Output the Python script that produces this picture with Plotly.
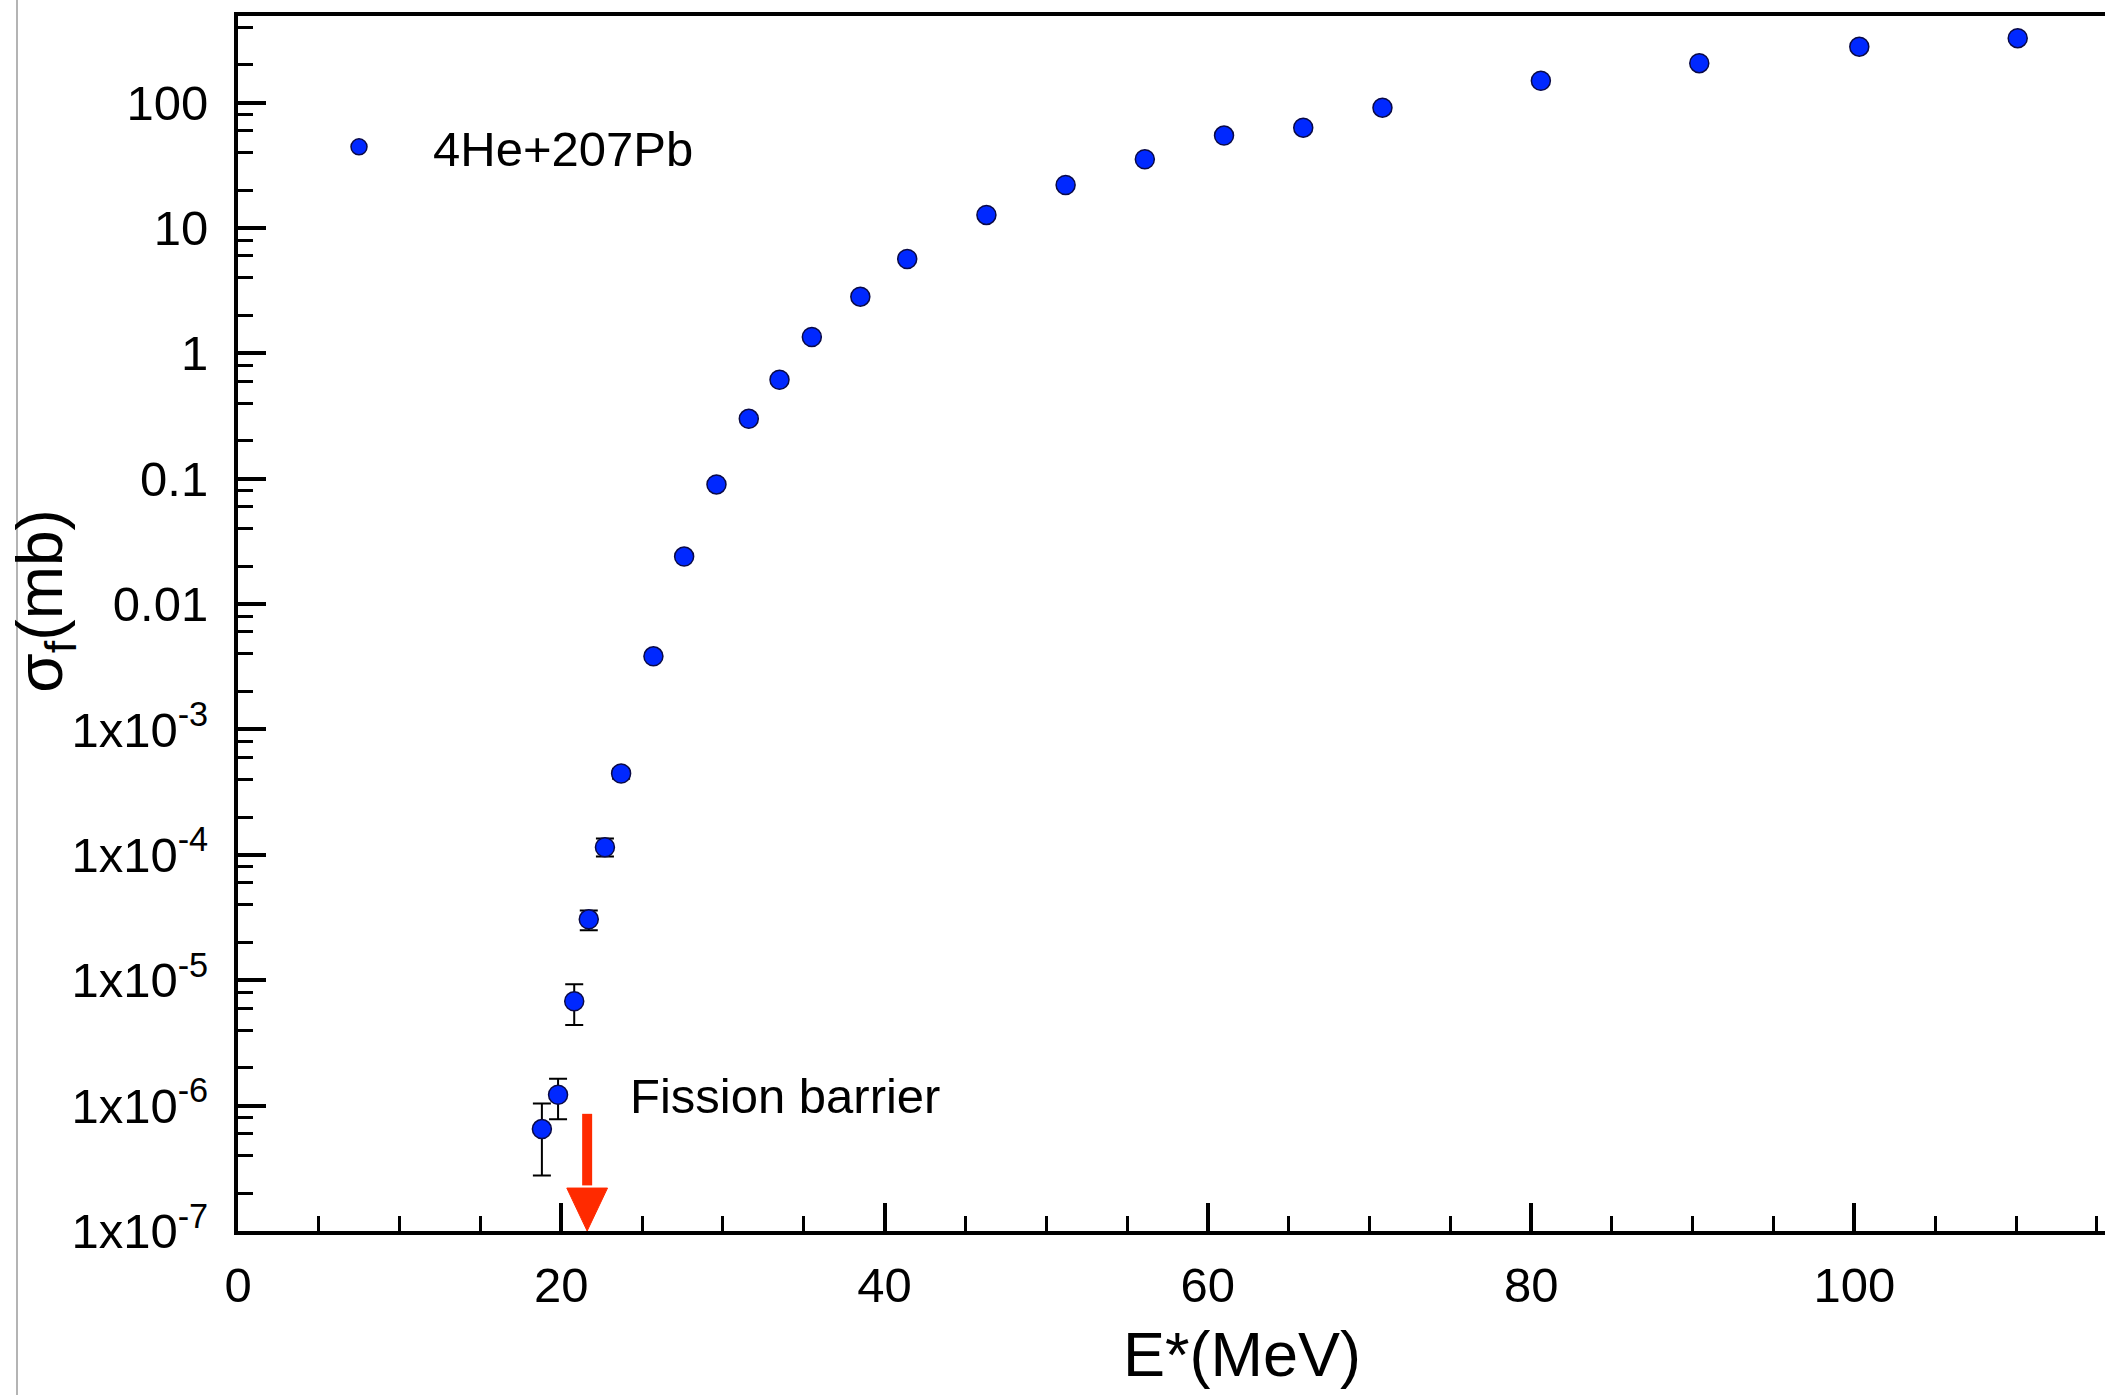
import math
import plotly.graph_objects as go

# ---------------- data ----------------
energy_mev = [18.8, 19.8, 20.8, 21.7, 22.7, 23.7, 25.7, 27.6, 29.6, 31.6, 33.5, 35.5,
              38.5, 41.4, 46.3, 51.2, 56.1, 61.0, 65.9, 70.8, 80.6, 90.4, 100.3, 110.1]
sigma_mb = [6.5e-7, 1.22e-6, 6.8e-6, 3.06e-5, 1.15e-4, 4.45e-4, 3.83e-3, 0.0239,
            0.090, 0.30, 0.615, 1.35, 2.83, 5.65, 12.7, 22.0, 35.3, 54.5, 63.0,
            91.0, 149.0, 206.0, 279.0, 326.0]
err_plus = [3.9e-7, 4.2e-7, 2.5e-6, 5.4e-6, 2.0e-5, 4.0e-5] + [None] * 18
err_minus = [3.73e-7, 4.4e-7, 2.4e-6, 5.6e-6, 1.8e-5, 4.0e-5] + [None] * 18
series_name = "4He+207Pb"

y_tickvals = [1e-7, 1e-6, 1e-5, 1e-4, 1e-3, 0.01, 0.1, 1, 10, 100]
y_ticktext = ["1x10<sup>-7</sup>", "1x10<sup>-6</sup>", "1x10<sup>-5</sup>",
              "1x10<sup>-4</sup>", "1x10<sup>-3</sup>", "0.01", "0.1", "1", "10", "100"]
x_tickvals = [0, 20, 40, 60, 80, 100]
x_minor = [v for v in range(5, 120, 5) if v % 20 != 0]
y_minor = [m * 10.0 ** e for e in range(-7, 3) for m in (2, 4, 6, 8)]

barrier_energy = 21.6        # MeV, fission barrier arrow
arrow_top = 8.6e-7
arrow_head_base = 2.2e-7
arrow_bottom = 1e-7
arrow_head_half = 1.26       # MeV
annot_text = "Fission barrier"

FONT = "Liberation Sans, Arial, Helvetica, sans-serif"
RED = "#ff2a00"

fig = go.Figure()

fig.add_trace(go.Scatter(
    x=energy_mev, y=sigma_mb, mode="markers", name=series_name,
    marker=dict(size=19, color="rgb(0,40,255)", line=dict(color="rgb(10,10,70)", width=1.5)),
    error_y=dict(type="data", symmetric=False, array=err_plus, arrayminus=err_minus,
                 color="black", thickness=2, width=9),
))

# fission barrier arrow: shaft + head
fig.add_trace(go.Scatter(
    x=[barrier_energy, barrier_energy], y=[arrow_top, arrow_head_base * 1.05],
    mode="lines", line=dict(color=RED, width=10), showlegend=False, hoverinfo="skip"))
fig.add_trace(go.Scatter(
    x=[barrier_energy - arrow_head_half, barrier_energy + arrow_head_half, barrier_energy,
       barrier_energy - arrow_head_half],
    y=[arrow_head_base, arrow_head_base, arrow_bottom, arrow_head_base],
    mode="lines", fill="toself", fillcolor=RED, line=dict(color=RED, width=1),
    showlegend=False, hoverinfo="skip"))

fig.add_annotation(x=24.1, y=math.log10(1.19e-6), xref="x", yref="y", text=annot_text,
                   showarrow=False, xanchor="left", yanchor="middle",
                   font=dict(family=FONT, size=49, color="black"))

# axis titles as annotations (positioned like the reference)
fig.add_annotation(x=(1242 - 238) / 1867, y=-0.101, xref="paper", yref="paper",
                   text="E*(MeV)", showarrow=False, xanchor="center", yanchor="middle",
                   font=dict(family=FONT, size=63, color="black"))
fig.add_annotation(x=(44 - 238) / 1867, y=0.518, xref="paper", yref="paper",
                   text="σ<sub>f</sub>(mb)", textangle=-90, showarrow=False,
                   xanchor="center", yanchor="middle",
                   font=dict(family=FONT, size=64, color="black"))

# thin gray frame line on the far left
fig.add_shape(type="line", xref="paper", yref="paper",
              x0=(17 - 238) / 1867, x1=(17 - 238) / 1867, y0=-0.2, y1=1.1,
              line=dict(color="#b4b4b4", width=2))

fig.update_xaxes(
    range=[0, 115.5], showline=True, linecolor="black", linewidth=4, mirror=True,
    ticks="inside", ticklen=28, tickwidth=4, tickcolor="black",
    tickvals=x_tickvals, ticktext=[str(v) for v in x_tickvals],
    minor=dict(ticks="inside", ticklen=15, tickwidth=2.5, tickcolor="black",
               tickmode="array", tickvals=x_minor),
    showgrid=False, zeroline=False, ticklabelstandoff=8,
    tickfont=dict(family=FONT, size=49, color="black"),
)
fig.update_yaxes(
    type="log", range=[-7, 2.69], showline=True, linecolor="black", linewidth=4,
    ticks="inside", ticklen=28, tickwidth=4, tickcolor="black",
    tickvals=y_tickvals, ticktext=y_ticktext,
    minor=dict(ticks="inside", ticklen=15, tickwidth=2.5, tickcolor="black",
               tickmode="array", tickvals=y_minor),
    showgrid=False, zeroline=False, ticklabelstandoff=16,
    tickfont=dict(family=FONT, size=49, color="black"),
)

fig.update_layout(
    width=2105, height=1395, autosize=False,
    margin=dict(l=238, r=0, t=16, b=164, pad=0),
    plot_bgcolor="white", paper_bgcolor="white",
    showlegend=True,
    legend=dict(x=(285 - 238) / 1867, y=(1231 - 147) / 1215, xanchor="left", yanchor="middle",
                bgcolor="rgba(0,0,0,0)", itemwidth=138,
                font=dict(family=FONT, size=49, color="black")),
)

fig.write_html("out.html")
